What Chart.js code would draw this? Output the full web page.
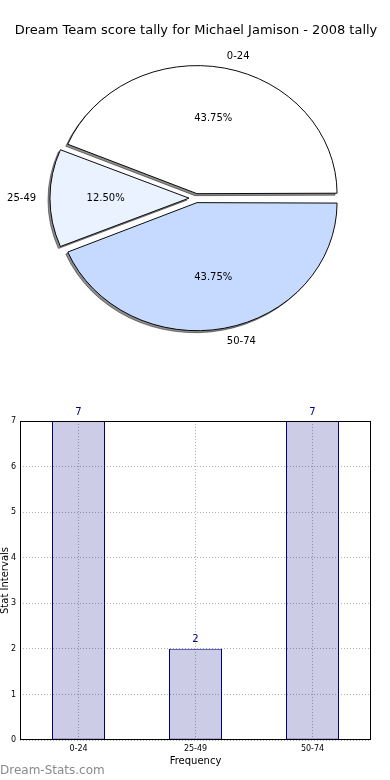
<!DOCTYPE html>
<html>
<head>
<meta charset="utf-8">
<script src="https://cdn.jsdelivr.net/npm/chart.js@4.4.0/dist/chart.umd.min.js"></script>
<style>
  html, body { margin: 0; padding: 0; background: #fff; }
  body { width: 390px; height: 780px; position: relative; overflow: hidden; }
  #pie { position: absolute; left: 0; top: 0; }
  #bar { position: absolute; left: 0; top: 370px; }
  #mark { position: absolute; left: 0; top: 763px; font: 12px "DejaVu Sans", sans-serif; color: #8a8a8a; }
</style>
</head>
<body>
<canvas id="pie" width="390" height="370"></canvas>
<canvas id="bar" width="390" height="410"></canvas>
<div id="mark">Dream-Stats.com</div>
<script>
const chartTitle = "Dream Team score tally for Michael Jamison - 2008 tally";
const categories = ["0-24", "25-49", "50-74"];
const frequency = [7, 2, 7];
const yMin = 0;
const yMax = 7;

Chart.defaults.font.family = "'DejaVu Sans', sans-serif";
Chart.defaults.color = "#000";

// matplotlib draws the pie counter-clockwise from 3 o'clock,
// chart.js goes clockwise, so feed it reversed and start at 3 o'clock
const pieLabels = categories.slice().reverse();
const pieValues = frequency.slice().reverse();
const total = frequency.reduce((a, b) => a + b, 0);

const SQUASH = 128 / 140; // the original pie is a bit flattened

const pieExtras = {
  id: "pieExtras",
  beforeDatasetsDraw(chart) {
    const meta = chart.getDatasetMeta(0);
    const arc0 = meta.data[0];
    const ctx = chart.ctx;
    ctx.save();
    ctx.translate(arc0.x, arc0.y);
    ctx.scale(1, SQUASH);
    ctx.translate(-arc0.x, -arc0.y);
    // shadow pass: same wedges, shifted and greyed, drawn under the real ones
    ctx.save();
    ctx.translate(-2, 2 / SQUASH);
    ctx.filter = "brightness(0) opacity(0.45)";
    meta.data.forEach((arc) => arc.draw(ctx));
    ctx.restore();
  },
  afterDatasetsDraw(chart) {
    const ctx = chart.ctx;
    ctx.restore();
    const meta = chart.getDatasetMeta(0);
    ctx.save();
    ctx.font = "10px 'DejaVu Sans'";
    ctx.fillStyle = "#000";
    ctx.textBaseline = "middle";
    meta.data.forEach((arc, i) => {
      const mid = (arc.startAngle + arc.endAngle) / 2;
      const shift = (arc.options.offset || 0) / 4;
      const r = arc.outerRadius + 2;
      const cos = Math.cos(mid), sin = Math.sin(mid);
      const at = (d) => [arc.x + cos * (shift + d), arc.y + sin * (shift + d) * SQUASH];
      const [lx, ly] = at(r * 1.1);
      ctx.textAlign = cos > 0.01 ? "left" : "right";
      ctx.fillText(pieLabels[i], lx, ly + (sin > 0.5 ? 2 : 0));
      const [px, py] = at(r * 0.6);
      ctx.textAlign = "center";
      ctx.fillText((pieValues[i] / total * 100).toFixed(2) + "%", px, py);
    });
    ctx.restore();
  }
};

new Chart(document.getElementById("pie"), {
  type: "pie",
  data: {
    labels: pieLabels,
    datasets: [{
      data: pieValues,
      backgroundColor: ["#c6daff", "#eaf2ff", "#ffffff"],
      borderColor: "#000",
      borderWidth: 1,
      borderJoinStyle: "miter",
      offset: [20, 28, 20],
      radius: 137,
    }],
  },
  options: {
    responsive: false,
    animation: false,
    events: [],
    rotation: 90,
    layout: { padding: { left: 2, right: 0, top: 0, bottom: 12 } },
    plugins: {
      legend: { display: false },
      tooltip: { enabled: false },
      title: {
        display: true,
        text: chartTitle,
        color: "#000",
        font: { size: 13, weight: "normal", lineHeight: 1.1 },
        padding: { top: 23, bottom: 1 },
      },
    },
  },
  plugins: [pieExtras],
});

const barExtras = {
  id: "barExtras",
  afterDatasetsDraw(chart) {
    const ctx = chart.ctx;
    const meta = chart.getDatasetMeta(0);
    ctx.save();
    ctx.font = "10px 'DejaVu Sans'";
    ctx.fillStyle = "#000080";
    ctx.textAlign = "center";
    ctx.textBaseline = "middle";
    meta.data.forEach((bar, i) => {
      ctx.fillText(String(frequency[i]), bar.x, bar.y - 9);
    });
    ctx.restore();
  },
  afterDraw(chart) {
    const { left, top, right, bottom } = chart.chartArea;
    const ctx = chart.ctx;
    ctx.save();
    ctx.strokeStyle = "#000";
    ctx.lineWidth = 1;
    ctx.strokeRect(left + 0.5, top + 0.5, right - left - 1, bottom - top - 1);
    ctx.restore();
  }
};

new Chart(document.getElementById("bar"), {
  type: "bar",
  data: {
    labels: categories,
    datasets: [{
      data: frequency,
      backgroundColor: "#cccce6",
      borderColor: "#000080",
      borderWidth: 1,
      borderSkipped: false,
      barPercentage: 53 / 117,
      categoryPercentage: 1,
    }],
  },
  options: {
    responsive: false,
    animation: false,
    events: [],
    layout: { padding: { left: 0, right: 19, top: 51, bottom: 0 } },
    plugins: {
      legend: { display: false },
      tooltip: { enabled: false },
    },
    scales: {
      x: {
        grid: { offset: false, color: "rgba(0,0,0,0.3)", lineWidth: 1, drawTicks: false, z: 1 },
        border: { display: false, dash: [1, 2] },
        ticks: { font: { size: 8 }, padding: 4, color: "#000" },
        title: {
          display: true,
          text: "Frequency",
          font: { size: 10 },
          padding: { top: 0, bottom: 13 },
          color: "#000",
        },
        afterFit(scale) { scale.height = 40; },
      },
      y: {
        min: yMin,
        max: yMax,
        grid: { color: "rgba(0,0,0,0.3)", lineWidth: 1, drawTicks: false, z: 1 },
        border: { display: false, dash: [1, 2] },
        ticks: { stepSize: 1, font: { size: 8 }, padding: 4, color: "#000" },
        title: {
          display: true,
          text: "Stat Intervals",
          font: { size: 10 },
          padding: { top: -1, bottom: 0 },
          color: "#000",
        },
        afterFit(scale) { scale.width = 20; },
      },
    },
  },
  plugins: [barExtras],
});
</script>
</body>
</html>
